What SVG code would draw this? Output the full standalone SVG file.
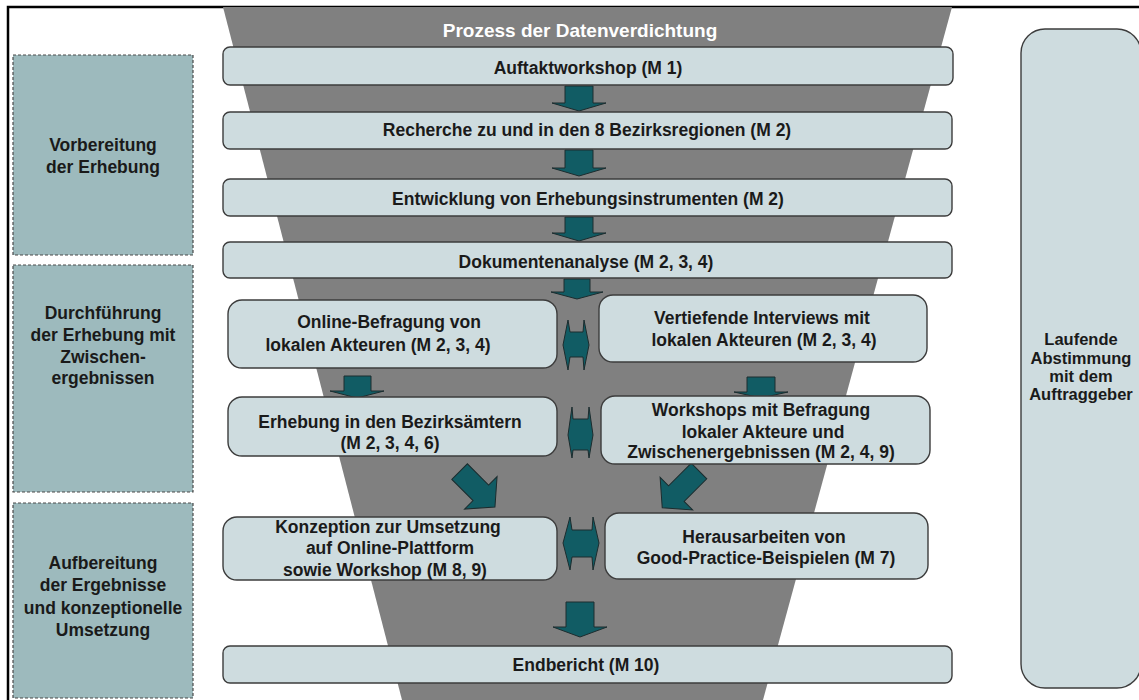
<svg xmlns="http://www.w3.org/2000/svg" width="1139" height="700" viewBox="0 0 1139 700">
  <style>
    .frame { fill: #ffffff; stroke: #000000; stroke-width: 2.5; }
    .phase { fill: #9dbabd; stroke: #4a4a4a; stroke-width: 1.2; stroke-dasharray: 3 2; }
    .funnel { fill: #808080; }
    .bar { fill: #cedcdf; stroke: #3c3c3c; stroke-width: 1.4; }
    .arrow { fill: #115c64; stroke: #1c2c2e; stroke-width: 1; stroke-linejoin: miter; }
    text { font-family: "Liberation Sans", Arial, sans-serif; font-weight: bold; font-size: 17.5px; fill: #1a1a1a; text-anchor: middle; }
    .title { fill: #ffffff; font-size: 19px; }
    .side { font-size: 16.5px; }
  </style>

  <!-- page frame (only left and top edges fall inside the canvas) -->
  <rect class="frame" x="8" y="7" width="1160" height="720"/>

  <!-- phase labels on the left -->
  <g id="phase-vorbereitung">
    <rect class="phase" x="13" y="55" width="180" height="200"/>
    <text x="103" y="151">Vorbereitung</text>
    <text x="103" y="173">der Erhebung</text>
  </g>
  <g id="phase-durchfuehrung">
    <rect class="phase" x="13" y="265" width="180" height="227"/>
    <text x="103" y="319">Durchführung</text>
    <text x="103" y="341">der Erhebung mit</text>
    <text x="103" y="363">Zwischen-</text>
    <text x="103" y="384">ergebnissen</text>
  </g>
  <g id="phase-aufbereitung">
    <rect class="phase" x="13" y="503" width="180" height="195"/>
    <text x="103" y="569">Aufbereitung</text>
    <text x="103" y="591">der Ergebnisse</text>
    <text x="103" y="614">und konzeptionelle</text>
    <text x="103" y="636">Umsetzung</text>
  </g>

  <!-- funnel background -->
  <g id="funnel">
    <polygon class="funnel" points="223,7 952,7 763,700 402,700"/>
    <text class="title" x="580" y="37">Prozess der Datenverdichtung</text>
  </g>

  <!-- connectors -->
  <g id="connectors">
    <path class="arrow" d="M565,86 H593 V103 H606 L579,111 L552,103 H565 Z"/>
    <path class="arrow" d="M565,150 H593 V168 H606 L579,176 L552,168 H565 Z"/>
    <path class="arrow" d="M565,217 H593 V233 H606 L579,241 L552,233 H565 Z"/>
    <path class="arrow" d="M564,279 H590 V292 H603 L577,299 L551,292 H564 Z"/>
    <path class="arrow" d="M344,376 H371 V391 H384 L357,398 L330,391 H344 Z"/>
    <path class="arrow" d="M747,377 H775 V392 H788 L761,398 L734,392 H747 Z"/>
    <path class="arrow" transform="translate(459.6,471.6) rotate(-45)" d="M-11,0 H11 V30 H23 L0,50 L-23,30 H-11 Z"/>
    <path class="arrow" transform="translate(699,471) rotate(45)" d="M-11,0 H11 V32 H23 L0,52 L-23,32 H-11 Z"/>
    <path class="arrow" d="M566,602 H594 V627 H607 L580,637 L553,627 H566 Z"/>
    <!-- two-way exchange between the parallel steps -->
    <polygon class="arrow" points="563,345 568,320 570,332 583,332 584,320 589,345 584,370 583,357 570,357 568,370"/>
    <polygon class="arrow" points="568,435 572,407 573,419 588,419 589,407 593,435 589,458 588,450 573,450 572,458"/>
    <polygon class="arrow" points="563,543 570,517 572,530 592,530 593,517 599,543 593,570 592,557 572,557 570,570"/>
  </g>

  <!-- process steps -->
  <g id="auftaktworkshop">
    <rect class="bar" x="223" y="47" width="730" height="38" rx="7"/>
    <text x="588" y="74">Auftaktworkshop (M 1)</text>
  </g>
  <g id="recherche">
    <rect class="bar" x="223" y="112" width="729" height="37" rx="7"/>
    <text x="587" y="136">Recherche zu und in den 8 Bezirksregionen (M 2)</text>
  </g>
  <g id="entwicklung">
    <rect class="bar" x="223" y="179" width="729" height="37" rx="7"/>
    <text x="588" y="205">Entwicklung von Erhebungsinstrumenten (M 2)</text>
  </g>
  <g id="dokumentenanalyse">
    <rect class="bar" x="223" y="242" width="729" height="36" rx="7"/>
    <text x="586" y="268">Dokumentenanalyse (M 2, 3, 4)</text>
  </g>
  <g id="online-befragung">
    <rect class="bar" x="228" y="300" width="329" height="68" rx="14"/>
    <text x="389" y="328">Online-Befragung von</text>
    <text x="378" y="351">lokalen Akteuren (M 2, 3, 4)</text>
  </g>
  <g id="vertiefende-interviews">
    <rect class="bar" x="599" y="295" width="328" height="67" rx="14"/>
    <text x="762" y="324">Vertiefende Interviews mit</text>
    <text x="764" y="346">lokalen Akteuren (M 2, 3, 4)</text>
  </g>
  <g id="erhebung-bezirksaemter">
    <rect class="bar" x="228" y="397" width="329" height="59" rx="14"/>
    <text x="390" y="428">Erhebung in den Bezirksämtern</text>
    <text x="390" y="449">(M 2, 3, 4, 6)</text>
  </g>
  <g id="workshops-befragung">
    <rect class="bar" x="601" y="396" width="329" height="68" rx="14"/>
    <text x="761" y="416">Workshops mit Befragung</text>
    <text x="763" y="438">lokaler Akteure und</text>
    <text x="761" y="458">Zwischenergebnissen (M 2, 4, 9)</text>
  </g>
  <g id="konzeption">
    <rect class="bar" x="223" y="517" width="334" height="63" rx="14"/>
    <text x="388" y="533">Konzeption zur Umsetzung</text>
    <text x="390" y="554">auf Online-Plattform</text>
    <text x="385" y="576">sowie Workshop (M 8, 9)</text>
  </g>
  <g id="good-practice">
    <rect class="bar" x="605" y="513" width="323" height="66" rx="14"/>
    <text x="764" y="543">Herausarbeiten von</text>
    <text x="766" y="564">Good-Practice-Beispielen (M 7)</text>
  </g>
  <g id="endbericht">
    <rect class="bar" x="223" y="646" width="729" height="37" rx="7"/>
    <text x="586" y="671">Endbericht (M 10)</text>
  </g>

  <!-- ongoing coordination, right column -->
  <g id="abstimmung">
    <rect class="bar" x="1021" y="29" width="120" height="659" rx="24"/>
    <text class="side" x="1081" y="345">Laufende</text>
    <text class="side" x="1081" y="363.5">Abstimmung</text>
    <text class="side" x="1081" y="382">mit dem</text>
    <text class="side" x="1081" y="400">Auftraggeber</text>
  </g>
</svg>
